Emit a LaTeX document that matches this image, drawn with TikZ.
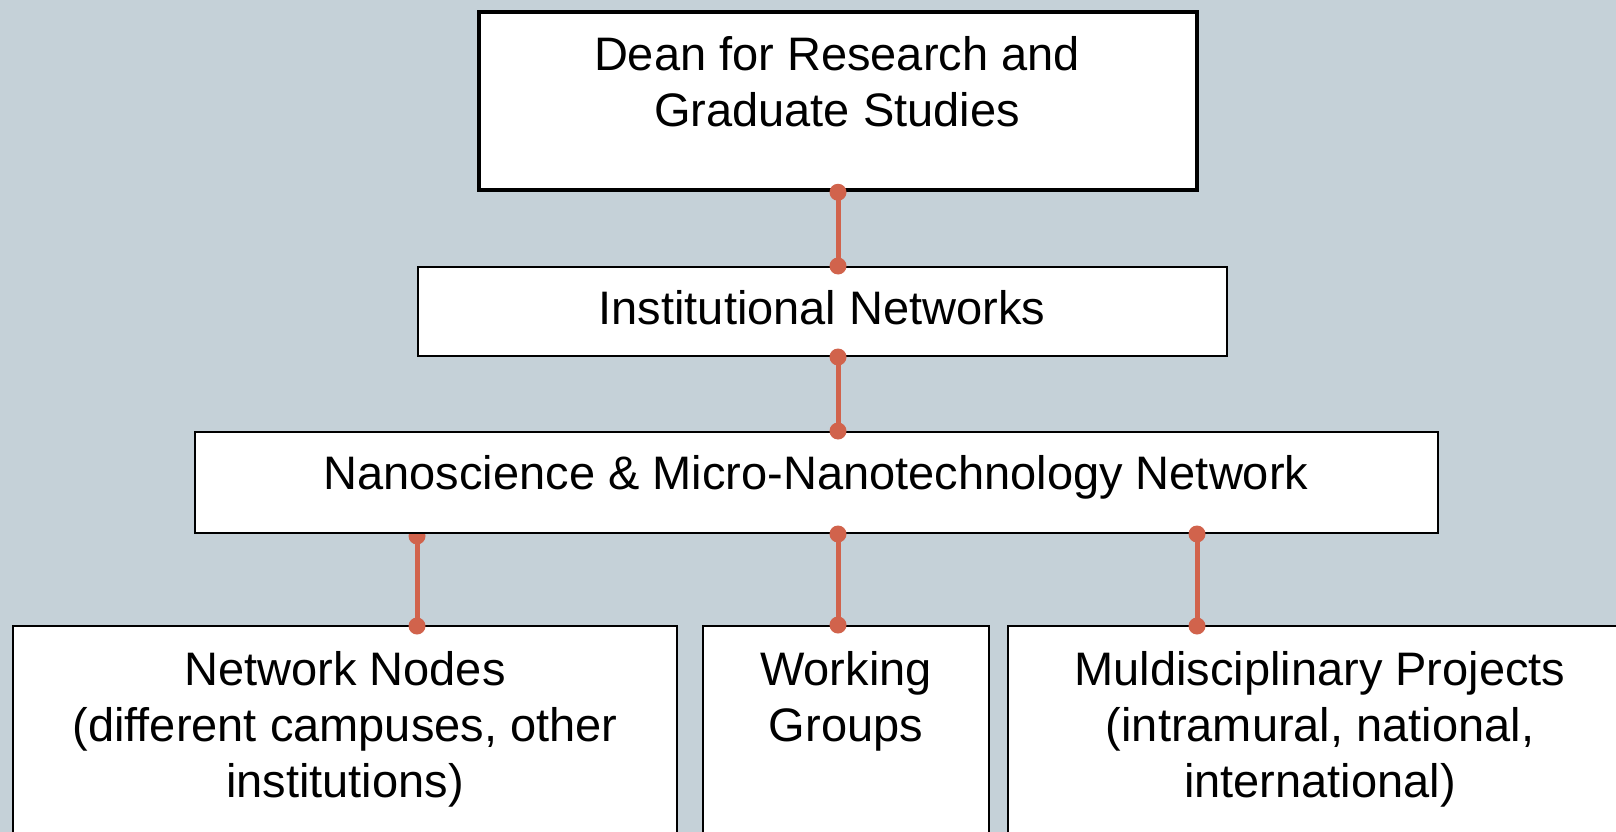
\documentclass[tikz,border=0pt]{standalone}
\usepackage{fontspec}
\setmainfont{Liberation Sans}
\definecolor{bg}{RGB}{197,209,216}
\definecolor{link}{RGB}{209,99,76}
\begin{document}
\begin{tikzpicture}[x=1pt,y=-1pt,
  box/.style={draw=black, fill=white, line width=2pt, inner sep=0pt},
  txt/.style={font=\fontsize{47}{56}\selectfont, align=center, inner sep=0pt},
  conn/.style={draw=link, line width=5pt}]
% canvas
\fill[bg] (0,0) rectangle (1616,832);
\useasboundingbox (0,0) rectangle (1616,832);

% connector columns on the lower boxes
\coordinate (lcol) at (417,626);
\coordinate (rcol) at (1197,626);

% this dot sits partly behind the network box
\fill[link] (417,536) circle[radius=8.5pt];

% boxes
\node[box, line width=4.5pt, minimum width=718pt, minimum height=178pt] (dean) at (838,101) {};
\node[box, minimum width=809pt, minimum height=89pt] (inst) at (822.5,311.5) {};
\node[box, minimum width=1243pt, minimum height=101pt] (nano) at (816.5,482.5) {};
\node[box, minimum width=664pt, minimum height=234pt] (nodes) at (345,743) {};
\node[box, minimum width=286pt, minimum height=234pt] (groups) at (846,743) {};
\node[box, minimum width=624pt, minimum height=234pt] (projects) at (1320,743) {};

% connectors
\draw[conn] (dean.south) -- (dean.south |- inst.north);
\draw[conn] (dean.south |- inst.south) -- (dean.south |- nano.north);
\draw[conn] (lcol |- nano.south) -- (lcol);
\draw[conn] (dean.south |- nano.south) -- (dean.south |- groups.north);
\draw[conn] (rcol |- nano.south) -- (rcol);

% end dots
\foreach \p in {(dean.south), (dean.south |- inst.north), (dean.south |- inst.south),
  (dean.south |- nano.north), (lcol), (dean.south |- nano.south),
  (dean.south |- groups.north), (rcol |- nano.south), (rcol)}
  \fill[link] \p circle[radius=8.5pt];

% labels
\node[txt, anchor=north] (deant) at (837,36) {Dean for Research and\\Graduate Studies};
\node[txt, anchor=base] (instt) at (822,324) {Institutional Networks};
\node[txt, anchor=base] (nanot) at (816,489) {Nanoscience \& Micro-Nanotechnology Network};
\node[txt, anchor=north] (nodest) at (345,651) {Network Nodes\\(different campuses, other\\institutions)};
\node[txt, anchor=north] (groupst) at (846,651) {Working\\Groups};
\node[txt, anchor=north] (projectst) at (1320,651) {Muldisciplinary Projects\\(intramural, national,\\international)};
\end{tikzpicture}
\end{document}
